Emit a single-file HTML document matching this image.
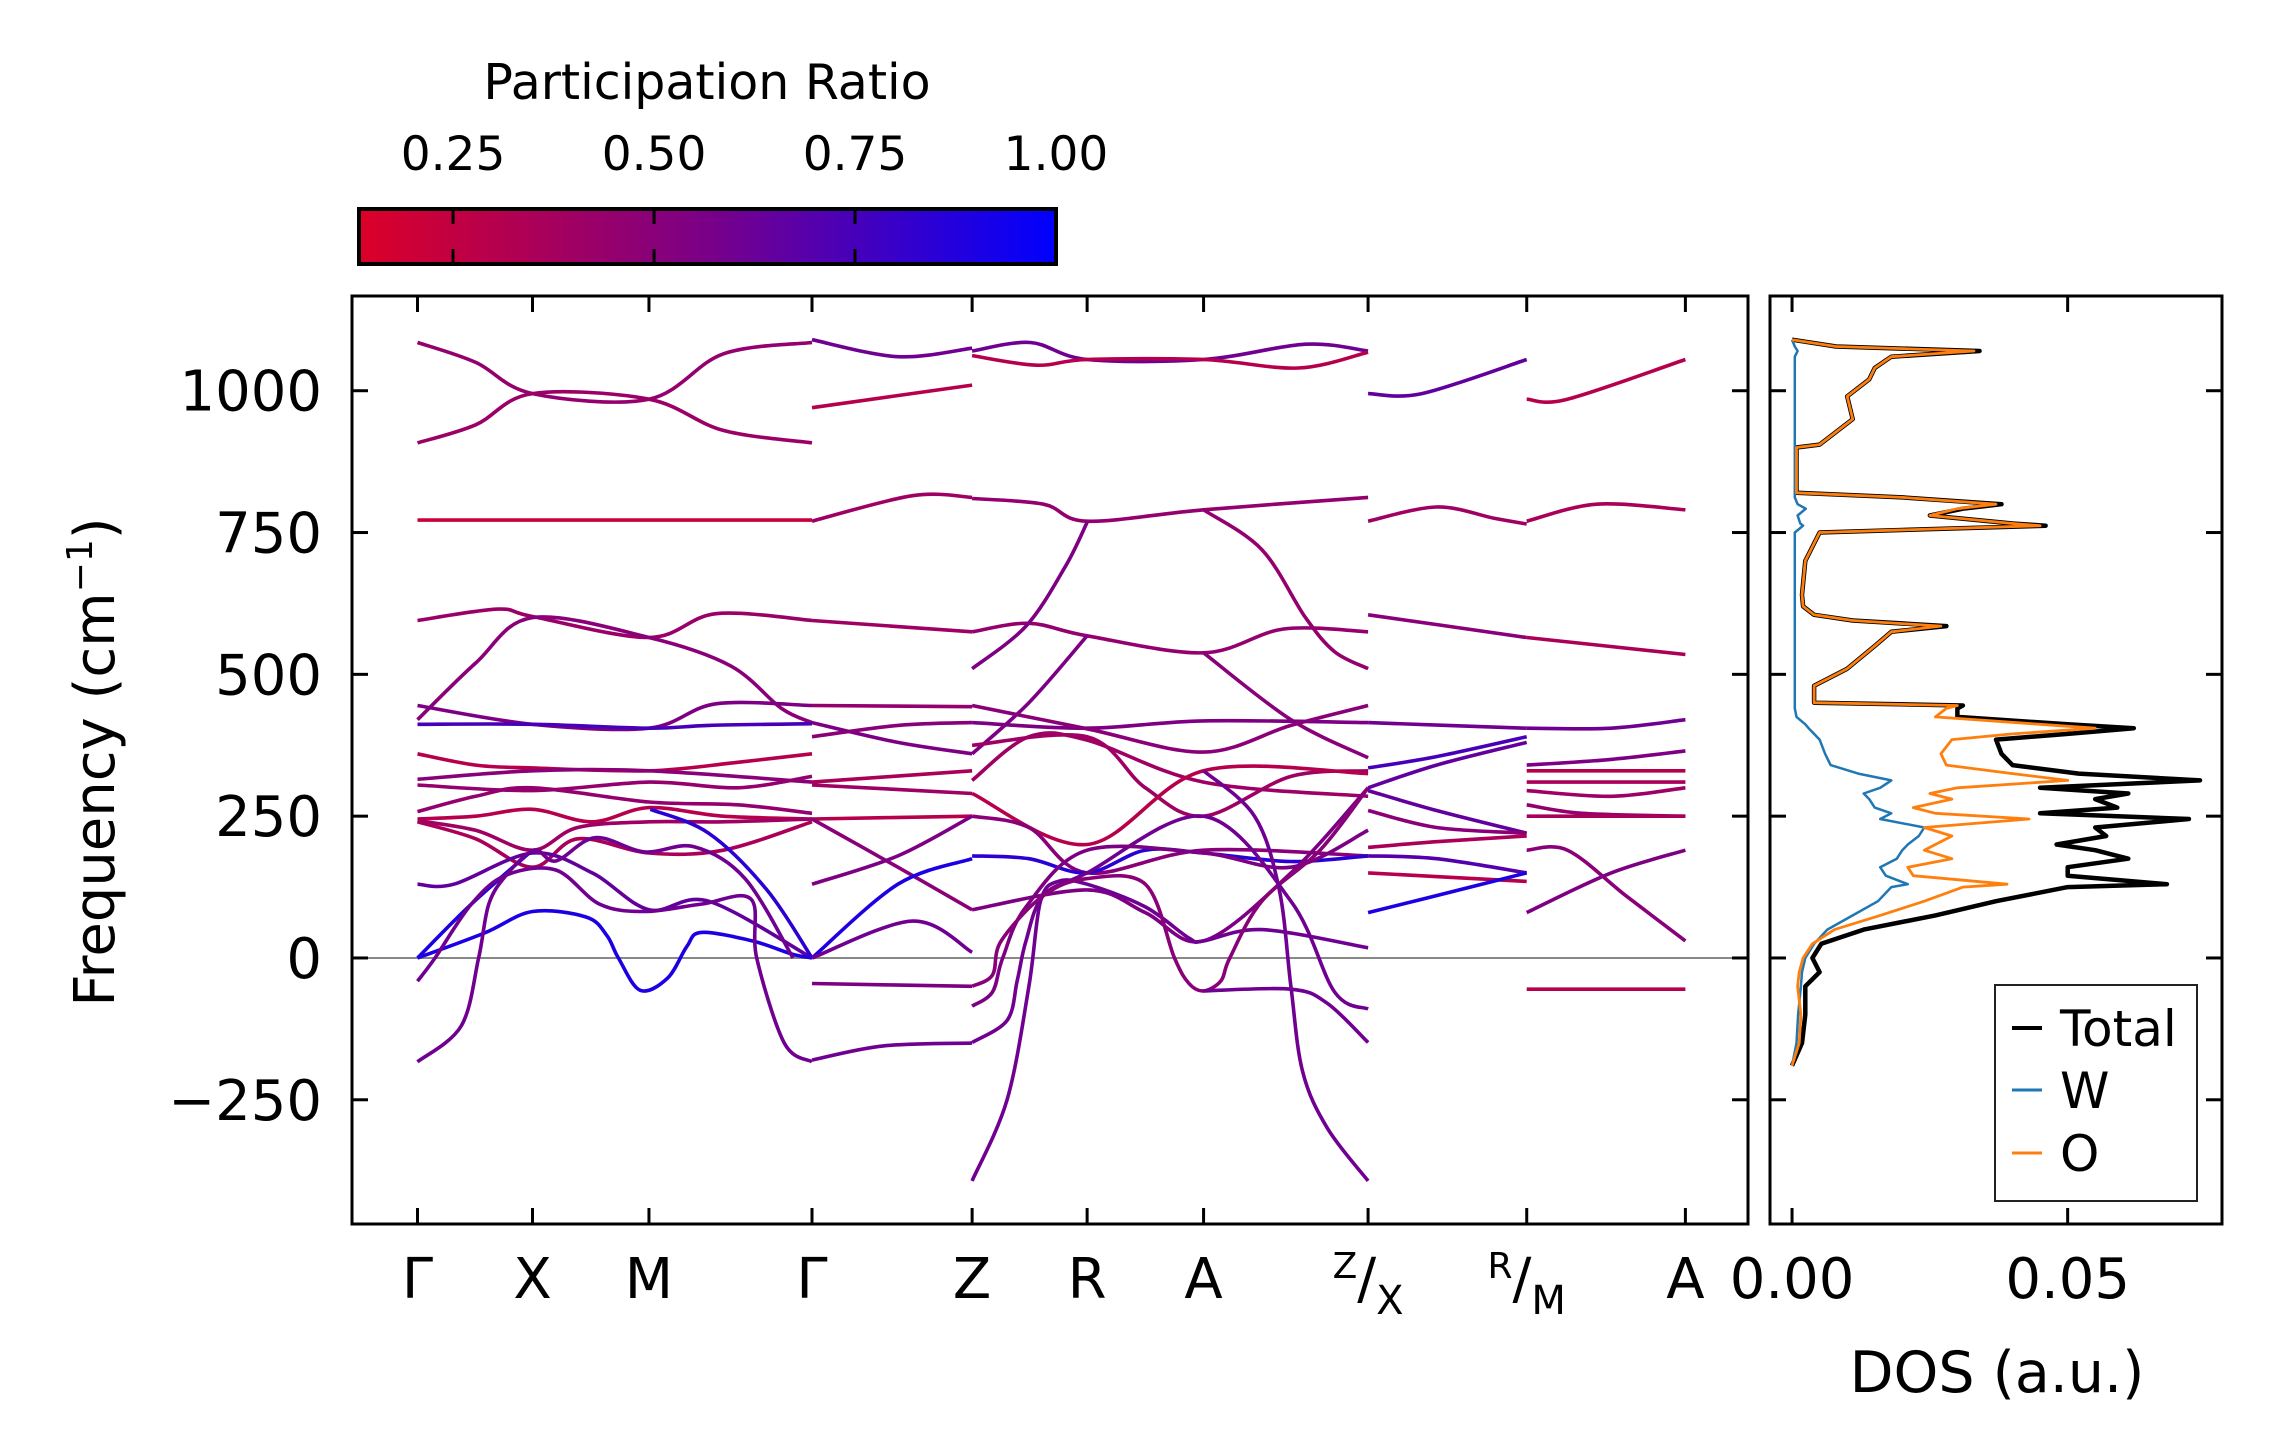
<!DOCTYPE html>
<html><head><meta charset="utf-8">
<style>
html,body{margin:0;padding:0;background:#fff;}
svg{display:block;}
text{font-family:"DejaVu Sans","Liberation Sans",sans-serif;fill:#000;}
</style></head>
<body>
<svg id="chart" width="2271" height="1455" viewBox="0 0 2271 1455" xmlns="http://www.w3.org/2000/svg">
<defs>
<linearGradient id="cmap" x1="0" x2="1" y1="0" y2="0">
<stop offset="0" stop-color="#dc0028"/>
<stop offset="0.5" stop-color="#7a0088"/>
<stop offset="1" stop-color="#0000ff"/>
</linearGradient>
<clipPath id="mainclip"><rect x="352" y="296" width="1396" height="928"/></clipPath>
<clipPath id="dosclip"><rect x="1770" y="296" width="452" height="928"/></clipPath>
</defs>
<g id="colorbar">
<text x="707" y="99" font-size="49" text-anchor="middle">Participation Ratio</text>
<rect x="359" y="209" width="697" height="55" fill="url(#cmap)" stroke="#000" stroke-width="4"/>
</g>
<g id="bands" clip-path="url(#mainclip)"></g>
<g id="axes"></g>
<g id="dos" clip-path="url(#dosclip)"></g>
<g id="legend">
<rect x="1995" y="985" width="202" height="216" fill="#fff" stroke="#222" stroke-width="2"/>
<line x1="2012" y1="1028" x2="2042" y2="1028" stroke="#000" stroke-width="4"/>
<text x="2060" y="1046" font-size="50">Total</text>
<line x1="2012" y1="1090" x2="2042" y2="1090" stroke="#1f77b4" stroke-width="3"/>
<text x="2060" y="1108" font-size="50">W</text>
<line x1="2012" y1="1153" x2="2042" y2="1153" stroke="#ff7f0e" stroke-width="3"/>
<text x="2060" y="1171" font-size="50">O</text>
</g>
</svg>
<script>
// ---------- data ----------
const kLabels = ["Γ","X","M","Γ","Z","R","A","Z|X","R|M","A"];
const kPos = [0,79,159,271,381,460,540,653,762,871];
const yTicks = [-250,0,250,500,750,1000];
const cbTicks = [0.25,0.50,0.75,1.00];
const dosTicks = [0.00,0.05];
// bands: participation ratio + [k, freq, k, freq, ...]
const bandPR = [];
const bandPts = [];
function B(pr, pts){ bandPR.push(pr); bandPts.push(pts); }
// Γ-X-M-Γ
B(0.45,[0,1085,40,1050,79,995,159,985,210,1065,271,1085]);
B(0.42,[0,908,40,940,79,995,159,985,210,930,271,908]);
B(0.22,[0,772,271,772]);
B(0.42,[0,595,55,615,79,602,159,565,205,607,271,595]);
B(0.5,[0,420,40,520,79,600,159,565,215,515,250,440,271,415]);
B(0.55,[0,445,79,412,159,405,205,448,271,445]);
B(0.75,[0,412,79,412,159,405,200,410,271,413]);
B(0.3,[0,360,40,340,79,335,159,330,220,345,271,360]);
B(0.5,[0,315,79,330,159,330,271,310]);
B(0.45,[0,305,79,295,159,310,220,300,271,320]);
B(0.45,[0,258,40,285,79,300,159,275,220,270,271,255]);
B(0.3,[0,245,40,250,79,262,120,240,159,265,210,250,271,245]);
B(0.4,[0,242,40,225,79,190,110,230,159,240,210,240,271,245]);
B(0.35,[0,240,40,210,79,160,110,210,159,185,210,190,271,240]);
B(0.65,[0,130,25,130,79,185,120,150,159,85,200,100,271,0]);
B(0.9,[0,0,37,95,79,190]);
B(0.9,[0,0,46,44,79,82,116,72,130,40,138,0,153,-57,172,-35,185,20,195,45,230,30,257,7,271,0]);
B(0.6,[0,-41,12,0,37,95,61,146,95,155,125,95,156,82,195,95,229,104,233,0,252,-150,271,-183]);
B(0.6,[0,-183,30,-120,42,0,49,95,61,146,80,190,95,171,122,212,156,187,190,196,225,140,258,0]);
B(0.85,[160,262,200,220,240,120,271,0]);
// Γ-Z
B(0.6,[271,1090,330,1060,381,1075]);
B(0.3,[271,970,381,1010]);
B(0.4,[271,770,340,815,381,812]);
B(0.4,[271,595,381,575]);
B(0.45,[271,445,381,443]);
B(0.55,[271,415,330,380,381,360]);
B(0.5,[271,390,330,410,381,415]);
B(0.35,[271,310,381,330]);
B(0.3,[271,245,381,250]);
B(0.4,[271,305,381,290]);
B(0.5,[271,245,330,160,381,85]);
B(0.55,[271,130,330,180,381,250]);
B(0.9,[271,0,330,130,381,175]);
B(0.6,[271,0,340,65,381,10]);
B(0.55,[271,-45,381,-50]);
B(0.6,[271,-180,320,-155,381,-150]);
// Z-R-A-Z
B(0.6,[381,1070,421,1085,460,1055,540,1055,610,1082,653,1070]);
B(0.3,[381,1062,425,1045,460,1055,540,1055,605,1040,653,1068]);
B(0.45,[381,810,430,800,460,770,540,790,653,812]);
B(0.45,[381,575,420,590,460,568,540,538,595,580,653,575]);
B(0.55,[381,510,418,585,445,690,460,768]);
B(0.45,[540,790,580,720,610,600,630,540,653,510]);
B(0.55,[381,360,420,450,460,568]);
B(0.5,[540,538,600,420,653,353]);
B(0.55,[381,415,460,405,540,418,653,415]);
B(0.5,[381,445,460,404,540,363,600,410,653,445]);
B(0.4,[381,375,460,390,500,300,540,250,600,320,653,330]);
B(0.4,[381,313,420,390,460,384,540,310,653,285]);
B(0.3,[381,290,460,200,540,330,653,325]);
B(0.5,[381,250,420,230,460,150,540,190,653,180]);
B(0.85,[381,180,420,175,460,150,500,190,540,185,600,170,653,180]);
B(0.55,[381,85,460,120,500,80,540,30,600,150,653,300]);
B(0.6,[381,-393,405,-250,420,-50,428,100,440,135,460,130,500,90,530,35,540,30,580,50,653,18]);
B(0.6,[381,-149,405,-110,412,-40,418,30,430,110,460,150,540,250,600,100,630,-60,653,-90]);
B(0.55,[381,-85,395,-60,402,0,418,90,460,190,540,185,600,160,653,225]);
B(0.5,[381,-50,395,-30,401,30,430,110,460,140,500,130,520,0,530,-45,540,-58,552,-40,558,0,580,100,620,190,653,300]);
B(0.6,[540,-58,600,-55,625,-80,653,-149]);
B(0.6,[540,330,575,250,592,120,600,-50,608,-200,625,-300,653,-393]);
// X-R
B(0.65,[653,995,690,995,762,1055]);
B(0.4,[653,770,700,795,740,775,762,765]);
B(0.5,[653,605,762,565]);
B(0.6,[653,415,762,405]);
B(0.75,[653,335,700,355,762,390]);
B(0.65,[653,300,700,340,762,380]);
B(0.65,[653,295,700,260,762,220]);
B(0.5,[653,260,700,230,762,220]);
B(0.35,[653,195,700,205,762,215]);
B(0.7,[653,180,700,175,762,150]);
B(0.3,[653,150,762,135]);
B(0.9,[653,80,700,110,762,150]);
// M-A
B(0.3,[762,985,790,985,871,1055]);
B(0.35,[762,770,810,800,871,790]);
B(0.35,[762,565,871,535]);
B(0.6,[762,405,820,405,871,420]);
B(0.55,[762,340,820,350,871,365]);
B(0.3,[762,330,871,330]);
B(0.35,[762,310,871,310]);
B(0.4,[762,295,820,285,871,300]);
B(0.45,[762,270,800,255,871,250]);
B(0.35,[762,250,871,250]);
B(0.5,[762,190,790,190,830,110,871,30]);
B(0.55,[762,80,820,150,871,190]);
B(0.3,[762,-55,871,-55]);

// DOS data
const dosFreq = [-190,-150,-100,-50,-25,0,25,50,75,100,125,130,145,160,175,190,200,215,230,245,255,265,280,290,300,313,325,340,360,385,395,405,412,425,440,445,450,480,510,550,575,585,595,605,620,640,700,750,762,766,780,792,800,812,820,900,905,950,990,1020,1040,1060,1070,1078,1090];
const dosO = [0,0.0013,0.0016,0.001,0.0013,0.002,0.0037,0.0077,0.016,0.024,0.031,0.039,0.022,0.021,0.029,0.024,0.026,0.029,0.024,0.043,0.026,0.022,0.029,0.025,0.03,0.05,0.04,0.028,0.027,0.029,0.04,0.055,0.045,0.026,0.028,0.03,0.004,0.004,0.01,0.015,0.018,0.027,0.011,0.004,0.002,0.0018,0.0024,0.005,0.045,0.04,0.025,0.03,0.037,0.02,0.0008,0.0008,0.005,0.011,0.01,0.014,0.015,0.018,0.033,0.008,0];
const dosTot = [0,0.0018,0.0024,0.0024,0.005,0.0037,0.0053,0.013,0.026,0.037,0.05,0.068,0.05,0.05,0.061,0.055,0.048,0.057,0.055,0.072,0.045,0.059,0.055,0.061,0.045,0.074,0.052,0.04,0.038,0.037,0.05,0.062,0.05,0.03,0.03,0.031,0.004,0.004,0.01,0.015,0.018,0.028,0.011,0.004,0.002,0.0018,0.0024,0.005,0.046,0.04,0.025,0.031,0.038,0.02,0.0008,0.0008,0.005,0.011,0.01,0.014,0.015,0.018,0.034,0.008,0];
const dosW = [0,0.0008,0.0011,0.0016,0.0018,0.0024,0.004,0.0064,0.011,0.0156,0.018,0.021,0.017,0.016,0.019,0.02,0.021,0.023,0.024,0.016,0.018,0.015,0.014,0.013,0.016,0.018,0.012,0.007,0.006,0.005,0.004,0.003,0.0024,0.0008,0.0005,0.0005,0.0005,0.0005,0.0005,0.0005,0.0005,0.0005,0.0005,0.0005,0.0005,0.0005,0.0005,0.0005,0.002,0.0015,0.001,0.0025,0.001,0.0005,0.0005,0.0005,0.0005,0.0005,0.0005,0.0005,0.0005,0.0005,0.001,0.0005,0];

// ---------- scales ----------
const NS="http://www.w3.org/2000/svg";
const X0=352,X1=1748,Y0=296,Y1=1224,DX0=1770,DX1=2222;
const kMin=-45,kMax=914,fMin=-469,fMax=1167,dMin=-0.004,dMax=0.078;
function xk(k){return X0+(k-kMin)/(kMax-kMin)*(X1-X0);}
function fy(f){return Y1-(f-fMin)/(fMax-fMin)*(Y1-Y0);}
function xd(v){return DX0+(v-dMin)/(dMax-dMin)*(DX1-DX0);}
function cbx(v){return 359+(v-0.133)/(1-0.133)*697;}
function color(pr){
  const t=Math.max(0,Math.min(1,(pr-0.133)/(1-0.133)));
  let r,g,b;
  if(t<0.5){const u=t/0.5;r=220+(122-220)*u;g=0;b=40+(136-40)*u;}
  else{const u=(t-0.5)/0.5;r=122*(1-u);g=0;b=136+(255-136)*u;}
  return `rgb(${r|0},${g|0},${b|0})`;
}
function mk(tag,attrs,parent){const e=document.createElementNS(NS,tag);for(const a in attrs)e.setAttribute(a,attrs[a]);parent.appendChild(e);return e;}
function smooth(p){
  let d=`M${p[0][0].toFixed(1)},${p[0][1].toFixed(1)}`;
  for(let i=0;i<p.length-1;i++){
    const p0=p[i-1]||p[i],p1=p[i],p2=p[i+1],p3=p[i+2]||p[i+1];
    const c1=[p1[0]+(p2[0]-p0[0])/6,p1[1]+(p2[1]-p0[1])/6];
    const c2=[p2[0]-(p3[0]-p1[0])/6,p2[1]-(p3[1]-p1[1])/6];
    d+=`C${c1[0].toFixed(1)},${c1[1].toFixed(1)} ${c2[0].toFixed(1)},${c2[1].toFixed(1)} ${p2[0].toFixed(1)},${p2[1].toFixed(1)}`;
  }
  return d;
}
// ---------- bands ----------
const gB=document.getElementById('bands');
const zl=mk('line',{x1:X0,x2:X1,y1:fy(0),y2:fy(0),stroke:'#888','stroke-width':2},gB);


bandPts.forEach((arr,i)=>{
  const p=[];for(let j=0;j<arr.length;j+=2)p.push([xk(arr[j]),fy(arr[j+1])]);
  const e=mk('path',{d:smooth(p),fill:'none',stroke:color(bandPR[i]),'stroke-width':3.6,'stroke-linecap':'butt'},gB);
  
  
});
// ---------- axes ----------
const gA=document.getElementById('axes');
const fr1=mk('rect',{x:X0,y:Y0,width:X1-X0,height:Y1-Y0,fill:'none',stroke:'#000','stroke-width':3},gA);


const fr2=mk('rect',{x:DX0,y:Y0,width:DX1-DX0,height:Y1-Y0,fill:'none',stroke:'#000','stroke-width':3},gA);


yTicks.forEach(v=>{
  const y=fy(v);
  [[X0,X0+16],[X1-16,X1],[DX0,DX0+16],[DX1-16,DX1]].forEach(s=>mk('line',{x1:s[0],x2:s[1],y1:y,y2:y,stroke:'#000','stroke-width':3},gA));
  const t=mk('text',{x:322,y:y+20,'font-size':56,'text-anchor':'end'},gA);
  t.textContent=v<0?'\u2212'+Math.abs(v):String(v);
  
  
});
kPos.forEach((k,i)=>{
  const x=xk(k);
  mk('line',{x1:x,x2:x,y1:Y0,y2:Y0+16,stroke:'#000','stroke-width':3},gA);
  mk('line',{x1:x,x2:x,y1:Y1-16,y2:Y1,stroke:'#000','stroke-width':3},gA);
  const lab=kLabels[i];
  const t=mk('text',{x:x,y:1298,'font-size':56,'text-anchor':'middle'},gA);
  if(lab.includes('|')){
    const [a,b]=lab.split('|');
    const s1=mk('tspan',{'font-size':36,dy:-20},t);s1.textContent=a;
    const s2=mk('tspan',{dy:20},t);s2.textContent='/';
    const s3=mk('tspan',{'font-size':40,dy:16},t);s3.textContent=b;
  } else t.textContent=lab;
  
  
});
dosTicks.forEach(v=>{
  const x=xd(v);
  mk('line',{x1:x,x2:x,y1:Y0,y2:Y0+16,stroke:'#000','stroke-width':3},gA);
  mk('line',{x1:x,x2:x,y1:Y1-16,y2:Y1,stroke:'#000','stroke-width':3},gA);
  const t=mk('text',{x:x,y:1298,'font-size':56,'text-anchor':'middle'},gA);
  t.textContent=v.toFixed(2);
  
  
});
const yl=mk('text',{x:0,y:0,'font-size':56,'text-anchor':'middle',transform:'translate(114,762) rotate(-90)'},gA);
yl.innerHTML='Frequency (cm<tspan font-size="36" dy="-22">\u22121</tspan><tspan dy="22">)</tspan>';


const xl=mk('text',{x:1997,y:1392,'font-size':57,'text-anchor':'middle'},gA);
xl.textContent='DOS (a.u.)';


// colorbar ticks
const gC=document.getElementById('colorbar');
cbTicks.forEach(v=>{
  const x=cbx(v);
  mk('line',{x1:x,x2:x,y1:211,y2:224,stroke:'#000','stroke-width':3},gC);
  mk('line',{x1:x,x2:x,y1:249,y2:262,stroke:'#000','stroke-width':3},gC);
  const t=mk('text',{x:x,y:170,'font-size':47,'text-anchor':'middle'},gC);
  t.textContent=v.toFixed(2);
  
  
});
// ---------- DOS ----------
const gD=document.getElementById('dos');
[[dosTot,'#000',4.5,'dos-total'],[dosW,'#1f77b4',2.5,'dos-w'],[dosO,'#ff7f0e',2.8,'dos-o']].forEach(s=>{
  let d='';
  dosFreq.forEach((f,i)=>{d+=(i?'L':'M')+xd(s[0][i]).toFixed(1)+','+fy(f).toFixed(1);});
  const e=mk('path',{d:d,fill:'none',stroke:s[1],'stroke-width':s[2],'stroke-linejoin':'round'},gD);
  
  
});
</script>
</body></html>
